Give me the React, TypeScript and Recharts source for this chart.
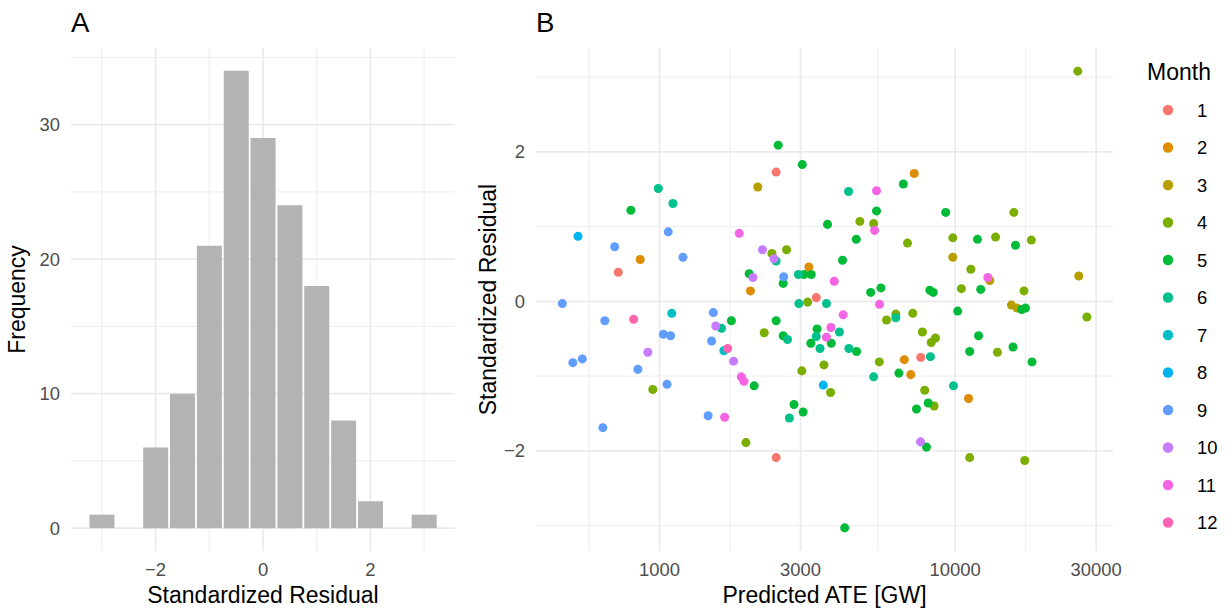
import { BarChart, Bar, ScatterChart, Scatter, XAxis, YAxis, ZAxis, CartesianGrid } from 'recharts'

// histogram (panel A)
const binMid = [-3, -2.5, -2, -1.5, -1, -0.5, 0, 0.5, 1, 1.5, 2, 2.5, 3]
const binCount = [1, 0, 6, 10, 21, 34, 29, 24, 18, 8, 2, 0, 1]
const histTicksX = [-2, 0, 2]
const histMinorX = [-3, -1, 1, 3]
const histTicksY = [0, 10, 20, 30]
const histMinorY = [5, 15, 25, 35]

// scatter (panel B)
const ateGW = [
  2520, 3040, 2480, 2150, 990, 1110, 800, 3700, 530, 1070,
  1860, 705, 2230, 2400, 2690, 2440, 2480, 1200, 860, 725,
  2010, 2070, 2630, 2620, 2950, 3080, 3260, 3200, 2030, 2960,
  3170, 3390, 3670, 469, 3900, 26000, 4360, 5420, 6680, 7270,
  5420, 9290, 15800, 4760, 5300, 5340, 4630, 6900, 9820, 11900,
  13700, 16000, 18100, 9820, 4160, 11300, 12900, 13100, 26200, 5180,
  5610, 8210, 8430, 10500, 12200, 17100, 5550, 15500, 16200, 16800,
  17300, 10200, 6300, 7190, 4180, 27900, 6300, 5860, 3410, 3800,
  4060, 3390, 3670, 3250, 3810, 3490, 4370, 4640, 7750, 8300,
  8580, 12000, 11200, 13900, 15700, 18200, 3600, 5540, 6730, 7650,
  8250, 3030, 5300, 6450, 7080, 3580, 3790, 9870, 11100, 7890,
  8110, 8490, 7400, 3060, 7640, 8000, 11200, 17200, 4230, 653,
  817, 1100, 1520, 1550, 1620, 1750, 2480, 2260, 2620, 2710,
  1030, 1090, 1500, 1700, 1650, 1780, 913, 509, 548, 845,
  1890, 1930, 2090, 949, 1060, 2850, 2750, 1460, 1660, 643,
  1960, 2480,
]
const stdResid = [
  2.09, 1.83, 1.73, 1.53, 1.51, 1.31, 1.22, 1.03, 0.87, 0.93,
  0.91, 0.73, 0.69, 0.64, 0.69, 0.57, 0.54, 0.59, 0.56, 0.39,
  0.37, 0.32, 0.33, 0.24, 0.36, 0.36, 0.36, 0.46, 0.14, -0.03,
  -0.01, 0.05, -0.03, -0.03, 0.27, 3.08, 1.47, 1.48, 1.57, 1.71,
  1.21, 1.19, 1.19, 1.07, 1.04, 0.95, 0.83, 0.78, 0.85, 0.83,
  0.86, 0.75, 0.82, 0.59, 0.55, 0.43, 0.32, 0.28, 0.34, 0.12,
  0.18, 0.15, 0.12, 0.17, 0.16, 0.14, -0.04, -0.05, -0.09, -0.11,
  -0.09, -0.13, -0.17, -0.16, -0.18, -0.21, -0.22, -0.25, -0.37, -0.35,
  -0.41, -0.47, -0.48, -0.56, -0.56, -0.63, -0.63, -0.67, -0.41, -0.55,
  -0.49, -0.46, -0.67, -0.68, -0.61, -0.81, -0.85, -0.81, -0.78, -0.75,
  -0.74, -0.93, -1.01, -0.96, -0.98, -1.12, -1.22, -1.13, -1.3, -1.19,
  -1.36, -1.4, -1.44, -1.48, -1.88, -1.95, -2.09, -2.13, -3.03, -0.26,
  -0.24, -0.16, -0.15, -0.33, -0.36, -0.26, -0.26, -0.42, -0.46, -0.51,
  -0.44, -0.46, -0.53, -0.63, -0.66, -0.8, -0.68, -0.82, -0.77, -0.91,
  -1.01, -1.07, -1.13, -1.18, -1.11, -1.38, -1.56, -1.53, -1.55, -1.69,
  -1.89, -2.09,
]
const monthOf = [
  5, 5, 1, 3, 6, 6, 5, 5, 8, 9,
  11, 9, 10, 4, 4, 10, 6, 9, 2, 1,
  5, 10, 9, 5, 6, 5, 5, 2, 2, 6,
  4, 1, 6, 9, 11, 4, 6, 11, 5, 2,
  5, 5, 4, 4, 4, 11, 5, 4, 4, 5,
  4, 5, 4, 3, 5, 4, 11, 3, 3, 5,
  5, 5, 5, 4, 5, 4, 11, 3, 3, 5,
  5, 5, 4, 4, 11, 4, 6, 4, 5, 11,
  6, 6, 11, 5, 5, 6, 6, 5, 4, 4,
  4, 5, 5, 4, 5, 5, 4, 4, 2, 1,
  6, 4, 6, 5, 2, 8, 4, 6, 2, 4,
  5, 4, 5, 5, 10, 5, 4, 4, 5, 9,
  12, 7, 9, 10, 6, 5, 5, 4, 5, 6,
  9, 9, 9, 12, 7, 10, 10, 9, 9, 9,
  11, 11, 5, 4, 9, 5, 6, 9, 11, 9,
  4, 1,
]
const months = [1, 2, 3, 4, 5, 6, 7, 8, 9, 10, 11, 12]
const monthColors = ['#F8766D', '#DE8C00', '#B79F00', '#7CAE00', '#00BA38', '#00C08B', '#00BFC4', '#00B4F0', '#619CFF', '#C77CFF', '#F564E3', '#FF64B0']
const ateTicks = [1000, 3000, 10000, 30000]
const ateMinor = [577, 1732, 5477, 17321]
const residTicks = [-2, 0, 2]
const residMinor = [-3, -1, 1, 3]

const histData = binMid.map((mid, i) => ({ mid, count: binCount[i] }))
const byMonth = months.map(m =>
  ateGW.map((ate, i) => ({ ate, resid: stdResid[i], m: monthOf[i] })).filter(d => d.m === m)
)

const FONT = '"Liberation Sans", Arial, sans-serif'
const GRID = '#EBEBEB'
const tickStyle = { fill: '#4D4D4D', fontSize: 18.4, fontFamily: FONT }
const titleStyle = { fill: '#000', fontSize: 23, fontFamily: FONT, textAnchor: 'middle' as const }
const minus = (v: number) => (v < 0 ? `\u2212${Math.abs(v)}` : `${v}`)

// grid positions go through the axis scale
const mapVals = (axis: any, vals: number[]) => {
  const s = axis?.scale
  if (!s) return []
  const f = typeof s === 'function' ? s : (v: number) => s.map(v)
  return vals.map(v => f(v))
}

export default function App() {
  return (
    <div style={{ position: 'absolute', left: 0, top: 0, width: 1232, height: 615, background: '#fff', fontFamily: FONT }}>
      <div style={{ position: 'absolute', left: 0, top: 0 }}>
        <BarChart width={470} height={615} data={histData} margin={{ top: 48, right: 15, bottom: 0, left: 0 }} barCategoryGap={1}>
          <CartesianGrid stroke={GRID} strokeWidth={0.9}
            horizontalCoordinatesGenerator={({ yAxis }: any) => mapVals(yAxis, histMinorY)}
            verticalCoordinatesGenerator={({ xAxis }: any) => mapVals(xAxis, histMinorX)} />
          <CartesianGrid stroke={GRID} strokeWidth={1.7}
            horizontalCoordinatesGenerator={({ yAxis }: any) => mapVals(yAxis, histTicksY)}
            verticalCoordinatesGenerator={({ xAxis }: any) => mapVals(xAxis, histTicksX)} />
          <XAxis dataKey="mid" type="number" domain={[-3.575, 3.575]} allowDataOverflow ticks={histTicksX}
            tickFormatter={minus} tick={tickStyle} axisLine={false} tickLine={false} tickSize={6} tickMargin={6} height={64}
            label={{ value: 'Standardized Residual', position: 'insideBottom', offset: 12, style: titleStyle }} />
          <YAxis type="number" domain={[-1.7, 35.7]} allowDataOverflow ticks={histTicksY}
            tick={tickStyle} axisLine={false} tickLine={false} tickSize={6} tickMargin={5} width={71}
            label={{ value: 'Frequency', angle: -90, position: 'insideLeft', offset: 17, style: titleStyle }} />
          <Bar dataKey="count" fill="#B3B3B3" isAnimationActive={false} />
        </BarChart>
      </div>

      <div style={{ position: 'absolute', left: 440, top: 0 }}>
        <ScatterChart width={792} height={615} margin={{ top: 48, right: 119, bottom: 0, left: 0 }}>
          <CartesianGrid stroke={GRID} strokeWidth={0.9}
            horizontalCoordinatesGenerator={({ yAxis }: any) => mapVals(yAxis, residMinor)}
            verticalCoordinatesGenerator={({ xAxis }: any) => mapVals(xAxis, ateMinor)} />
          <CartesianGrid stroke={GRID} strokeWidth={1.7}
            horizontalCoordinatesGenerator={({ yAxis }: any) => mapVals(yAxis, residTicks)}
            verticalCoordinatesGenerator={({ xAxis }: any) => mapVals(xAxis, ateTicks)} />
          <XAxis dataKey="ate" type="number" scale="log" domain={[382, 34200]} allowDataOverflow ticks={ateTicks}
            tick={tickStyle} axisLine={false} tickLine={false} tickSize={6} tickMargin={6} height={64}
            label={{ value: 'Predicted ATE [GW]', position: 'insideBottom', offset: 12, style: titleStyle }} />
          <YAxis dataKey="resid" type="number" domain={[-3.34, 3.39]} allowDataOverflow ticks={residTicks}
            tickFormatter={minus} tick={tickStyle} axisLine={false} tickLine={false} tickSize={6} tickMargin={5} width={96}
            label={{ value: 'Standardized Residual', angle: -90, position: 'insideLeft', offset: 48, style: titleStyle }} />
          <ZAxis type="number" range={[86, 86]} />
          {byMonth.map((pts, i) => (
            <Scatter key={i} name={String(months[i])} data={pts} fill={monthColors[i]} isAnimationActive={false} />
          ))}
        </ScatterChart>
      </div>

      <svg width={1232} height={615} style={{ position: 'absolute', left: 0, top: 0, pointerEvents: 'none' }} fontFamily={FONT}>
        <text x={71} y={32} fontSize={27.6} fill="#000">A</text>
        <text x={536} y={32} fontSize={27.6} fill="#000">B</text>
        <text x={1147} y={80} fontSize={23} fill="#000">Month</text>
        {months.map((m, i) => (
          <g key={m}>
            <circle cx={1168} cy={110 + i * 37.5} r={5.2} fill={monthColors[i]} />
            <text x={1197} y={110 + i * 37.5 + 6.6} fontSize={18.4} fill="#000">{m}</text>
          </g>
        ))}
      </svg>
    </div>
  )
}
